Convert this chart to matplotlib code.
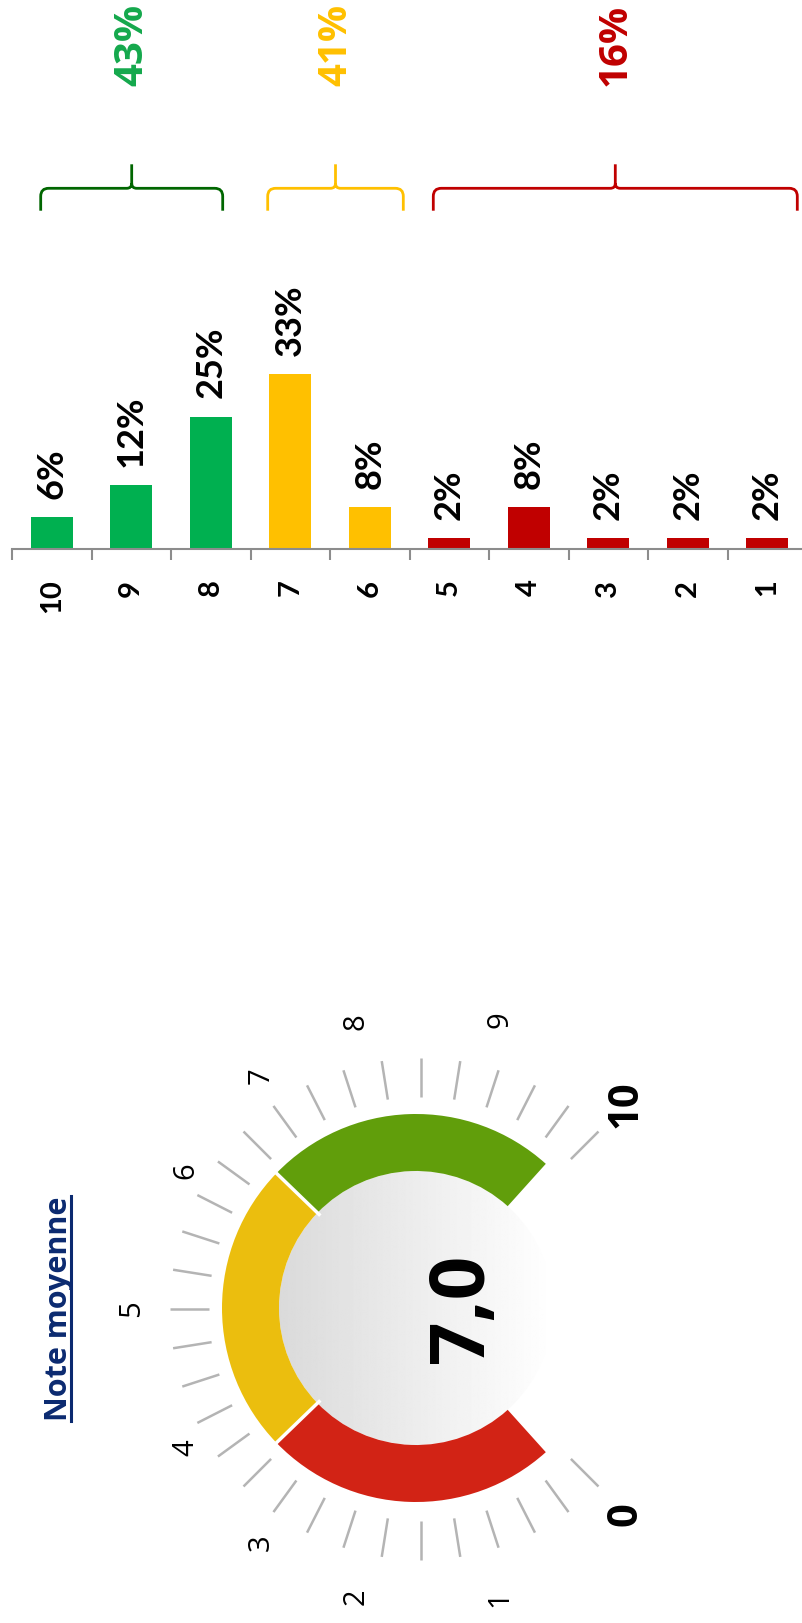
import numpy as np
import matplotlib
matplotlib.use("Agg")
import matplotlib.pyplot as plt
from matplotlib.patches import Wedge, Circle, PathPatch
from matplotlib.path import Path
from matplotlib.lines import Line2D

# donnees
notes = ['10', '9', '8', '7', '6', '5', '4', '3', '2', '1']
pourcentages = [6, 12, 25, 33, 8, 2, 8, 2, 2, 2]
couleurs_barres = ['#00B050', '#00B050', '#00B050', '#FFC000', '#FFC000',
                   '#C00000', '#C00000', '#C00000', '#C00000', '#C00000']
groupes = [(0, 2), (3, 4), (5, 9)]
couleurs_groupes = ['#14A84C', '#FFC000', '#C00000']
couleurs_accolades = ['#006600', '#FFC000', '#C00000']

jauge_bornes = [0, 10 / 3, 20 / 3, 10]
jauge_couleurs = ['#D22315', '#EBBE0E', '#619E0B']
jauge_labels = ['0', '1', '2', '3', '4', '5', '6', '7', '8', '9', '10']

# placement des etiquettes de la jauge (rayon px, decalage angulaire en degres)
etiquettes_r = [290, 300, 295, 283, 273, 289, 273, 283, 295, 300, 290]
etiquettes_da = [0, -2.7, -3.8, 1.6, 3.5, 0, -3.5, -1.6, 3.8, 2.7, 0]

W, H = 803, 1623
PX = 5.3       # pixels par %
CAT = 79.5     # pixels par categorie


def rect(x0, y0, x1, y1):
    return [x0 / W, 1 - y1 / H, (x1 - x0) / W, (y1 - y0) / H]


def by(py):
    # pixel (depuis le haut) -> y data du graphique en barres
    return (549 - py) / PX


def bx(px):
    return (px - 12) / CAT - 0.5


fig = plt.figure(figsize=(W / 100, H / 100), dpi=100)
fig.patch.set_facecolor('white')

# ---------- histogramme ----------
ax = fig.add_axes(rect(12, 0, 807, 549))
ax.patch.set_alpha(0)
x = np.arange(len(notes))
ax.bar(x, pourcentages, width=0.53, color=couleurs_barres, zorder=2)
ax.set_xlim(-0.5, 9.5)
ax.set_ylim(0, 549 / PX)
for s in ['top', 'left', 'right']:
    ax.spines[s].set_visible(False)
ax.spines['bottom'].set_color('#8C8C8C')
ax.spines['bottom'].set_linewidth(1.5)
ax.set_yticks([])
ax.set_xticks(np.arange(-0.5, 10, 1))
ax.set_xticklabels([])
ax.tick_params(axis='x', length=8, width=1.5, color='#8C8C8C', direction='out')

for i, p in enumerate(pourcentages):
    ax.annotate(f"{p}%", (i, p), xytext=(0, 13), textcoords='offset points',
                rotation=90, rotation_mode='anchor', ha='left', va='center',
                fontsize=26, fontweight='bold', family='Lato', annotation_clip=False)
for i, n in enumerate(notes):
    ax.annotate(n, (i, 0), xytext=(0, -22), textcoords='offset points',
                rotation=90, rotation_mode='anchor', ha='right', va='center',
                fontsize=21, fontweight='bold', family='Lato', annotation_clip=False)

# accolades
accolades_x = [(bx(40.7), bx(222.7)), (bx(267.7), bx(403.3)), (bx(433.3), bx(797.3))]


def accolade(x0, x1, color):
    yb, yl, yt = by(210.7), by(188.3), by(164.3)
    xm = (x0 + x1) / 2
    rx, ry = 8 / CAT, 8 / PX
    tx, ty = 5 / CAT, 5 / PX
    verts = [(x0, yb), (x0, yl - ry), (x0, yl), (x0 + rx, yl), (xm - tx, yl),
             (xm, yl), (xm, yl + ty), (xm, yt),
             (xm, yl + ty), (xm, yl), (xm + tx, yl), (x1 - rx, yl),
             (x1, yl), (x1, yl - ry), (x1, yb)]
    codes = [Path.MOVETO, Path.LINETO, Path.CURVE3, Path.CURVE3, Path.LINETO,
             Path.CURVE3, Path.CURVE3, Path.LINETO,
             Path.MOVETO, Path.CURVE3, Path.CURVE3, Path.LINETO,
             Path.CURVE3, Path.CURVE3, Path.LINETO]
    ax.add_patch(PathPatch(Path(verts, codes), fill=False, edgecolor=color,
                           lw=2, capstyle='butt', clip_on=False))
    return xm


for (g0, g1), (x0, x1), cg, ca in zip(groupes, accolades_x, couleurs_groupes, couleurs_accolades):
    xm = accolade(x0, x1, ca)
    total = sum(pourcentages[g0:g1 + 1])
    ax.text(xm, by(86), f"{total}%", rotation=90, rotation_mode='anchor',
            ha='left', va='center', color=cg, fontsize=29, fontweight='bold',
            family='Open Sans', clip_on=False)

# ---------- jauge ----------
gx = fig.add_axes(rect(0, 950, 803, 1623))
gx.set_axis_off()

R_OUT, R_IN = 194, 137


def ang_arc(v):
    # arcs : 264 degres de -48 a +48 (sens horaire)
    return -48 - 26.4 * v


def ang(v):
    # graduations et etiquettes : 270 degres
    return -45 - 27 * v


grad = np.linspace(0.855, 1.0, 256).reshape(1, -1)
im = gx.imshow(grad, cmap='gray', vmin=0, vmax=1, extent=(-R_IN, R_IN, -R_IN, R_IN),
               aspect='auto', interpolation='bilinear', zorder=1)
cercle = Circle((0, 0), R_IN, facecolor='none', edgecolor='none')
gx.add_patch(cercle)
im.set_clip_path(cercle)

for i, c in enumerate(jauge_couleurs):
    gx.add_patch(Wedge((0, 0), R_OUT, ang_arc(jauge_bornes[i + 1]), ang_arc(jauge_bornes[i]),
                       width=R_OUT - R_IN, facecolor=c, edgecolor='none', zorder=2))
for v in jauge_bornes[1:-1]:
    a = np.radians(ang_arc(v))
    gx.plot([(R_IN - 4) * np.cos(a), (R_OUT + 4) * np.cos(a)],
            [(R_IN - 4) * np.sin(a), (R_OUT + 4) * np.sin(a)],
            color='white', lw=2.5, zorder=3, solid_capstyle='butt')

# graduations
tcx, tcy = 5, -1
for k in range(31):
    a = np.radians(ang(k / 3))
    gx.plot([tcx + 212 * np.cos(a), tcx + 251 * np.cos(a)],
            [tcy + 212 * np.sin(a), tcy + 251 * np.sin(a)],
            color='#B4B4B4', lw=1.8, solid_capstyle='butt', zorder=2)
for v, lab in enumerate(jauge_labels):
    a = np.radians(ang(v) + etiquettes_da[v])
    r = etiquettes_r[v]
    grand = lab in ('0', '10')
    gx.text(tcx + r * np.cos(a), tcy + r * np.sin(a), lab, rotation=90,
            ha='center', va='center', family='Open Sans',
            fontsize=30 if grand else 21, fontweight='bold' if grand else 'normal')

moyenne = sum(int(n) * p for n, p in zip(notes, pourcentages)) / sum(pourcentages)
gx.text(67, 0, f"{moyenne:.1f}".replace('.', ','), rotation=90, rotation_mode='anchor',
        ha='center', va='baseline', fontsize=55, fontweight='bold',
        family='Open Sans', zorder=4)

gx.set_xlim(-416, 387)
gx.set_ylim(-315, 358)

# titre
titre = fig.text(67 / W, 1 - 1308.5 / H, "Note moyenne", rotation=90, rotation_mode='anchor',
                 ha='center', va='baseline', fontsize=22, fontweight='bold',
                 family='Open Sans', color='#0B2A70')
fig.canvas.draw()
bb = titre.get_window_extent()
fig.add_artist(Line2D([71.5 / W, 71.5 / W], [bb.y0 / H, bb.y1 / H], transform=fig.transFigure,
                      color='#0B2A70', lw=2.2))

fig.savefig('out.png', dpi=100, facecolor='white')
